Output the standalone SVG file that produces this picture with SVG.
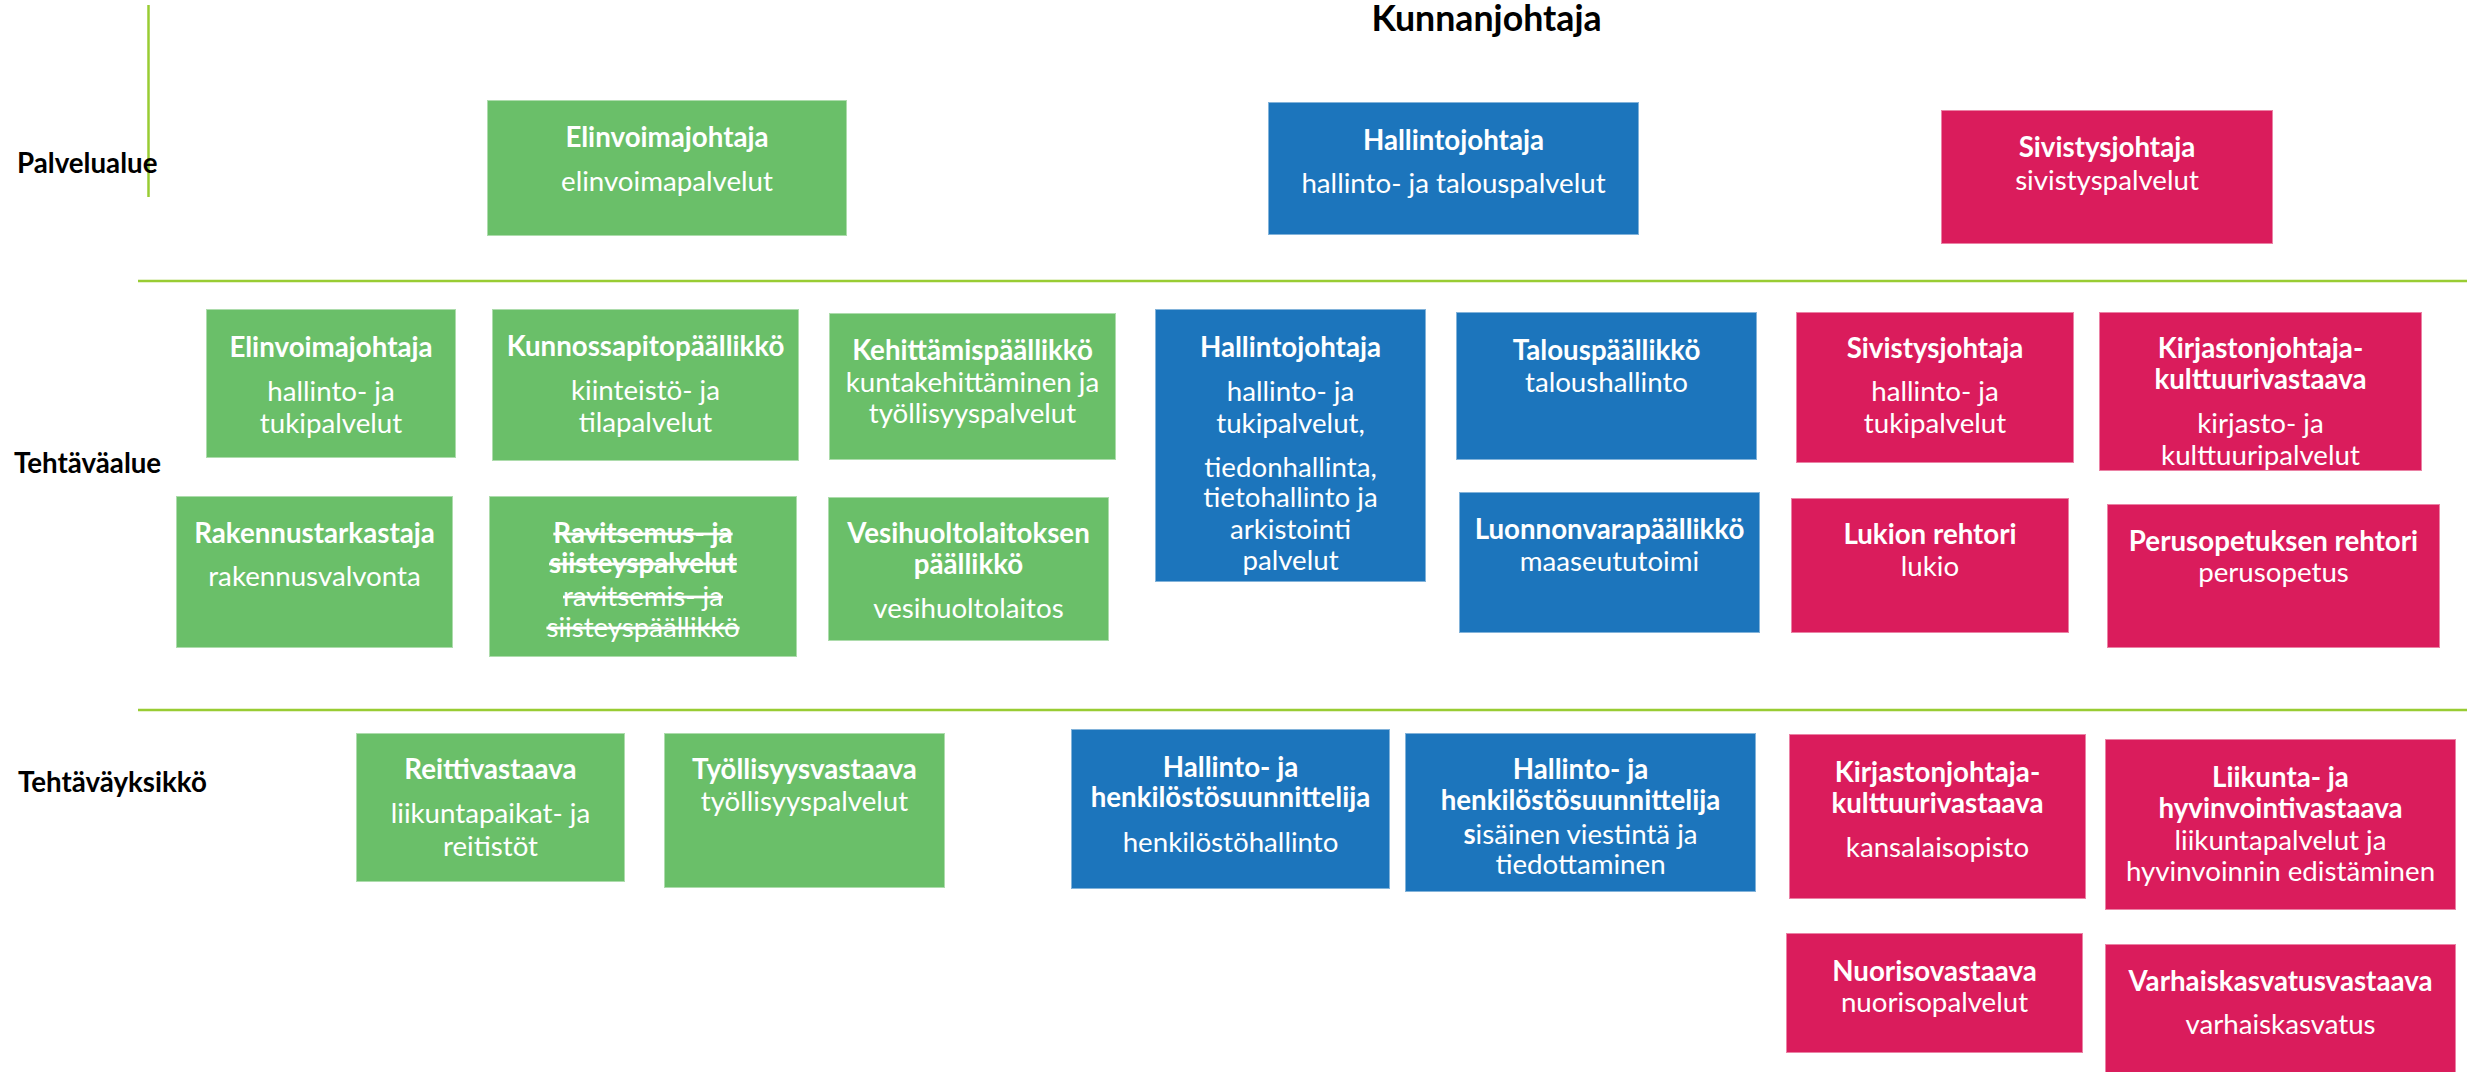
<svg xmlns="http://www.w3.org/2000/svg" width="2471" height="1072" viewBox="0 0 2471 1072">
<style>
.box{stroke:#ffffff;stroke-opacity:0.45;stroke-width:2}
.g{fill:#6abf69}
.b{fill:#1c75bc}
.p{fill:#da1c5c}
text{font-family:Lato,"Liberation Sans",sans-serif;font-size:27.7px}
.w{fill:#ffffff;text-anchor:middle}
.bold{font-weight:700}
.lbl{fill:#000000;font-weight:700}
.s{text-decoration:line-through}
.ln{stroke:#99cc33;stroke-width:2.5;fill:none}
</style>
<rect width="2471" height="1072" fill="#ffffff"/>
<g id="connectors">
<line class="ln" x1="148.5" y1="5" x2="148.5" y2="197"/>
<line class="ln" x1="138" y1="281" x2="2467" y2="281"/>
<line class="ln" x1="138" y1="710" x2="2467" y2="710"/>
</g>
<g id="labels">
<text class="lbl" x="1486.5" y="31" text-anchor="middle" style="font-size:35.7px">Kunnanjohtaja</text>
<text class="lbl" x="17" y="173">Palvelualue</text>
<text class="lbl" x="14" y="473">Tehtäväalue</text>
<text class="lbl" x="18" y="792">Tehtäväyksikkö</text>
</g>
<g id="n-elinvoima-pa">
<rect class="box g" x="487" y="100" width="360" height="136"/>
<text class="w bold" x="667" y="147">Elinvoimajohtaja</text>
<text class="w" x="667" y="191">elinvoimapalvelut</text>
</g>
<g id="n-hallinto-pa">
<rect class="box b" x="1268" y="102" width="371" height="133"/>
<text class="w bold" x="1453.5" y="150">Hallintojohtaja</text>
<text class="w" x="1453.5" y="193">hallinto- ja talouspalvelut</text>
</g>
<g id="n-sivistys-pa">
<rect class="box p" x="1941" y="110" width="332" height="134"/>
<text class="w bold" x="2107" y="157">Sivistysjohtaja</text>
<text class="w" x="2107" y="190">sivistyspalvelut</text>
</g>
<g id="n-elinvoimajohtaja">
<rect class="box g" x="206" y="309" width="250" height="149"/>
<text class="w bold" x="331" y="357">Elinvoimajohtaja</text>
<text class="w" x="331" y="401">hallinto- ja</text>
<text class="w" x="331" y="433">tukipalvelut</text>
</g>
<g id="n-kunnossapito">
<rect class="box g" x="492" y="309" width="307" height="152"/>
<text class="w bold" x="645.5" y="356">Kunnossapitopäällikkö</text>
<text class="w" x="645.5" y="400">kiinteistö- ja</text>
<text class="w" x="645.5" y="432">tilapalvelut</text>
</g>
<g id="n-kehittamis">
<rect class="box g" x="829" y="313" width="287" height="147"/>
<text class="w bold" x="972.5" y="360">Kehittämispäällikkö</text>
<text class="w" x="972.5" y="392">kuntakehittäminen ja</text>
<text class="w" x="972.5" y="423">työllisyyspalvelut</text>
</g>
<g id="n-rakennustarkastaja">
<rect class="box g" x="176" y="496" width="277" height="152"/>
<text class="w bold" x="314.5" y="543">Rakennustarkastaja</text>
<text class="w" x="314.5" y="586">rakennusvalvonta</text>
</g>
<g id="n-ravitsemus">
<rect class="box g" x="489" y="496" width="308" height="161"/>
<text class="w bold s" x="643" y="543">Ravitsemus- ja</text>
<text class="w bold s" x="643" y="573">siisteyspalvelut</text>
<text class="w s" x="643" y="606">ravitsemis- ja</text>
<text class="w s" x="643" y="637">siisteyspäällikkö</text>
</g>
<g id="n-vesihuolto">
<rect class="box g" x="828" y="497" width="281" height="144"/>
<text class="w bold" x="968.5" y="543">Vesihuoltolaitoksen</text>
<text class="w bold" x="968.5" y="574">päällikkö</text>
<text class="w" x="968.5" y="618">vesihuoltolaitos</text>
</g>
<g id="n-hallintojohtaja">
<rect class="box b" x="1155" y="309" width="271" height="273"/>
<text class="w bold" x="1290.5" y="357">Hallintojohtaja</text>
<text class="w" x="1290.5" y="401">hallinto- ja</text>
<text class="w" x="1290.5" y="433">tukipalvelut,</text>
<text class="w" x="1290.5" y="477">tiedonhallinta,</text>
<text class="w" x="1290.5" y="507">tietohallinto ja</text>
<text class="w" x="1290.5" y="539">arkistointi</text>
<text class="w" x="1290.5" y="570">palvelut</text>
</g>
<g id="n-talous">
<rect class="box b" x="1456" y="312" width="301" height="148"/>
<text class="w bold" x="1606.5" y="360">Talouspäällikkö</text>
<text class="w" x="1606.5" y="392">taloushallinto</text>
</g>
<g id="n-luonnonvara">
<rect class="box b" x="1459" y="492" width="301" height="141"/>
<text class="w bold" x="1609.5" y="539">Luonnonvarapäällikkö</text>
<text class="w" x="1609.5" y="571">maaseututoimi</text>
</g>
<g id="n-sivistysjohtaja">
<rect class="box p" x="1796" y="312" width="278" height="151"/>
<text class="w bold" x="1935" y="358">Sivistysjohtaja</text>
<text class="w" x="1935" y="401">hallinto- ja</text>
<text class="w" x="1935" y="433">tukipalvelut</text>
</g>
<g id="n-kirjasto-ta">
<rect class="box p" x="2099" y="312" width="323" height="159"/>
<text class="w bold" x="2260.5" y="358">Kirjastonjohtaja-</text>
<text class="w bold" x="2260.5" y="389">kulttuurivastaava</text>
<text class="w" x="2260.5" y="433">kirjasto- ja</text>
<text class="w" x="2260.5" y="465">kulttuuripalvelut</text>
</g>
<g id="n-lukio">
<rect class="box p" x="1791" y="498" width="278" height="135"/>
<text class="w bold" x="1930" y="544">Lukion rehtori</text>
<text class="w" x="1930" y="576">lukio</text>
</g>
<g id="n-perusopetus">
<rect class="box p" x="2107" y="504" width="333" height="144"/>
<text class="w bold" x="2273.5" y="551">Perusopetuksen rehtori</text>
<text class="w" x="2273.5" y="582">perusopetus</text>
</g>
<g id="n-reittivastaava">
<rect class="box g" x="356" y="733" width="269" height="149"/>
<text class="w bold" x="490.5" y="779">Reittivastaava</text>
<text class="w" x="490.5" y="823">liikuntapaikat- ja</text>
<text class="w" x="490.5" y="856">reitistöt</text>
</g>
<g id="n-tyollisyysvastaava">
<rect class="box g" x="664" y="733" width="281" height="155"/>
<text class="w bold" x="804.5" y="779">Työllisyysvastaava</text>
<text class="w" x="804.5" y="811">työllisyyspalvelut</text>
</g>
<g id="n-hallinto-henkilosto">
<rect class="box b" x="1071" y="729" width="319" height="160"/>
<text class="w bold" x="1230.5" y="777">Hallinto- ja</text>
<text class="w bold" x="1230.5" y="807">henkilöstösuunnittelija</text>
<text class="w" x="1230.5" y="852">henkilöstöhallinto</text>
</g>
<g id="n-hallinto-viestinta">
<rect class="box b" x="1405" y="733" width="351" height="159"/>
<text class="w bold" x="1580.5" y="779">Hallinto- ja</text>
<text class="w bold" x="1580.5" y="810">henkilöstösuunnittelija</text>
<text class="w" x="1580.5" y="844"><tspan class="bold">s</tspan>isäinen viestintä ja</text>
<text class="w" x="1580.5" y="874">tiedottaminen</text>
</g>
<g id="n-kirjasto-yks">
<rect class="box p" x="1789" y="734" width="297" height="165"/>
<text class="w bold" x="1937.5" y="782">Kirjastonjohtaja-</text>
<text class="w bold" x="1937.5" y="813">kulttuurivastaava</text>
<text class="w" x="1937.5" y="857">kansalaisopisto</text>
</g>
<g id="n-liikunta">
<rect class="box p" x="2105" y="739" width="351" height="171"/>
<text class="w bold" x="2280.5" y="787">Liikunta- ja</text>
<text class="w bold" x="2280.5" y="818">hyvinvointivastaava</text>
<text class="w" x="2280.5" y="850">liikuntapalvelut ja</text>
<text class="w" x="2280.5" y="881">hyvinvoinnin edistäminen</text>
</g>
<g id="n-nuoriso">
<rect class="box p" x="1786" y="933" width="297" height="120"/>
<text class="w bold" x="1934.5" y="981">Nuorisovastaava</text>
<text class="w" x="1934.5" y="1012">nuorisopalvelut</text>
</g>
<g id="n-varhaiskasvatus">
<rect class="box p" x="2105" y="944" width="351" height="132"/>
<text class="w bold" x="2280.5" y="991">Varhaiskasvatusvastaava</text>
<text class="w" x="2280.5" y="1034">varhaiskasvatus</text>
</g>
</svg>
